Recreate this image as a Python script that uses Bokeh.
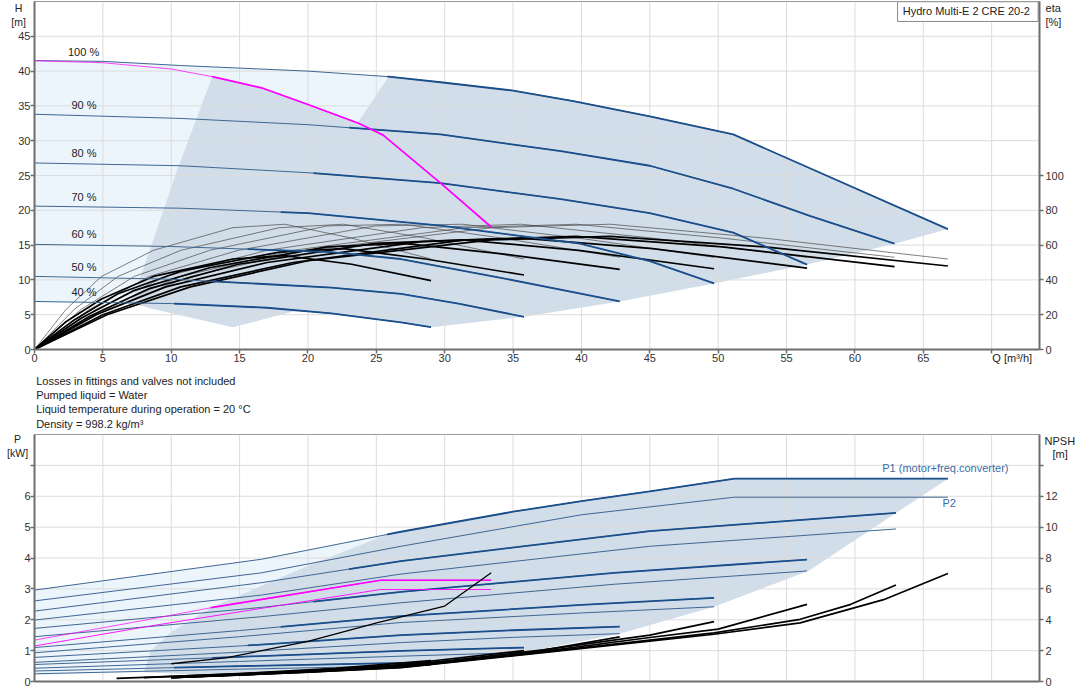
import numpy as np
from bokeh.plotting import figure
from bokeh.models import Range1d, LinearAxis, FixedTicker, Label
from bokeh.layouts import column
from bokeh.embed import file_html
from bokeh.resources import INLINE

# ---------------- ticks ----------------
Q_TICKS = list(range(0, 75, 5))
H_TICKS = list(range(0, 50, 5))
ETA_TICKS = [0, 20, 40, 60, 80, 100]
P_TICKS = list(range(0, 8))
NPSH_TICKS = list(range(0, 16, 2))

# ---------------- QH curves (top) ----------------
SPEED_LABELS = ["100 %", "90 %", "80 %", "70 %", "60 %", "50 %", "40 %"]
SPEED_LABEL_Q = [2.45, 2.7, 2.7, 2.7, 2.7, 2.7, 2.7]
SPEED_LABEL_H = [42.7, 35.1, 28.2, 21.9, 16.6, 11.9, 8.3]
THICK_FROM_Q = [25.8, 23.0, 20.4, 18.0, 15.6, 13.0, 10.2]

QH_Q_100 = [0, 5, 10.7, 20, 25.9, 29.7, 35, 39.4, 45, 51.1, 66.8]
QH_H_100 = [41.5, 41.4, 40.8, 40.0, 39.2, 38.4, 37.2, 35.7, 33.5, 30.9, 17.3]
QH_Q_90 = [0, 10.7, 20, 29.7, 38.5, 45, 51.1, 56.7, 62.9]
QH_H_90 = [33.8, 33.2, 32.3, 30.9, 28.5, 26.4, 23.1, 19.2, 15.2]
QH_Q_80 = [0, 10.7, 20, 29.7, 38.5, 45, 51.1, 56.5]
QH_H_80 = [26.8, 26.4, 25.4, 23.9, 21.6, 19.6, 16.8, 12.2]
QH_Q_70 = [0, 10.7, 20, 29.7, 39.9, 45, 49.7]
QH_H_70 = [20.6, 20.3, 19.6, 17.8, 15.2, 12.7, 9.5]
QH_Q_60 = [0, 10, 21.7, 26.8, 34.1, 42.8]
QH_H_60 = [15.1, 14.8, 14.0, 13.0, 10.3, 6.9]
QH_Q_50 = [0, 10, 21.7, 26.8, 31, 35.8]
QH_H_50 = [10.5, 10.1, 8.9, 8.0, 6.6, 4.7]
QH_Q_40 = [0, 10, 17, 21.7, 26.8, 29]
QH_H_40 = [6.9, 6.6, 6.0, 5.2, 3.9, 3.2]

MAG_Q = [0, 5, 10, 13, 16.6, 20, 23.7, 25.5, 29.7, 33.4]
MAG_H = [41.5, 41.2, 40.3, 39.2, 37.6, 35.2, 32.5, 30.8, 23.9, 17.6]
MAG_THICK_FROM = 13.0

# ---------------- efficiency curves (eta %) ----------------
ETA_Q_100 = [0, 5.3, 11.4, 20.0, 33.4, 42.1, 53.4, 66.8]
ETA_Q_90 = [0, 5.0, 10.7, 18.9, 31.5, 39.6, 50.3, 62.9]
ETA_Q_80 = [0, 4.5, 9.6, 17.0, 28.3, 35.6, 45.2, 56.5]
ETA_Q_70 = [0, 4.0, 8.4, 14.9, 24.9, 31.3, 39.8, 49.7]
ETA_Q_60 = [0, 3.4, 7.3, 12.8, 21.4, 27.0, 34.2, 42.8]
ETA_Q_50 = [0, 2.9, 6.1, 10.7, 17.9, 22.6, 28.6, 35.8]
ETA_Q_40 = [0, 2.3, 4.9, 8.7, 14.5, 18.3, 23.2, 29.0]
ETA_PUMP_100 = [0, 23, 42, 57, 70, 72, 64, 52]
ETA_PUMP_90 = [0, 23, 42, 57, 70, 72, 64, 53]
ETA_PUMP_80 = [0, 23, 42, 57, 70, 72, 64, 53]
ETA_PUMP_70 = [0, 23, 42, 57, 71, 72, 64, 53]
ETA_PUMP_60 = [0, 23, 42, 57, 71, 72, 64, 53]
ETA_PUMP_50 = [0, 23, 42, 57, 70, 72, 64, 52]
ETA_PUMP_40 = [0, 23, 42, 57, 70, 72, 64, 52]
ETA_TOT_100 = [0, 20, 36, 51, 63, 65, 59, 48]
ETA_TOT_90 = [0, 20, 36, 50, 63, 65, 59, 47.6]
ETA_TOT_80 = [0, 20, 36, 50, 62, 64, 58, 46.8]
ETA_TOT_70 = [0, 19, 35, 49, 61, 63, 57, 46.4]
ETA_TOT_60 = [0, 18, 34, 47, 59, 61, 55, 46]
ETA_TOT_50 = [0, 17, 32, 45, 56, 58, 52, 42.8]
ETA_TOT_40 = [0, 16, 29, 42, 52, 54, 49, 39.6]

# ---------------- operating-range areas ----------------
PALE_TOP_Q = [0, 5, 10.7, 20, 25.9, 23.6, 10.4, 7.1, 5, 0]
PALE_TOP_H = [41.5, 41.4, 40.8, 40.0, 39.2, 32.5, 25.6, 6.5, 6.6, 6.8]
GREY_TOP_Q = [13.0, 16.6, 20.0, 23.6, 25.9, 29.7, 35, 39.4, 45, 51.1, 66.8,
              62.9, 56.5, 49.7, 42.8, 35.8, 29.0, 26.8, 21.7, 19.0, 14.5, 8.5, 7.1, 10.4]
GREY_TOP_H = [39.2, 37.6, 35.2, 32.5, 39.2, 38.4, 37.2, 35.7, 33.5, 30.9, 17.3,
              15.2, 12.2, 9.5, 6.9, 4.7, 3.2, 3.9, 5.2, 5.5, 3.2, 5.9, 6.7, 25.6]

# ---------------- power curves (bottom) ----------------
P1_Q_100 = [0, 16.6, 26.8, 35, 40, 45, 51.2, 66.8]
P1_100 = [2.96, 3.96, 4.85, 5.5, 5.84, 6.16, 6.57, 6.57]
P2_Q_100 = [0, 16.6, 26.8, 40, 51.2, 66.8]
P2_100 = [2.61, 3.52, 4.38, 5.4, 5.97, 5.97]
P_Q_90 = [0, 16.6, 26.8, 45, 63]
P1_90 = [2.28, 3.2, 3.9, 4.87, 5.46]
P2_90 = [1.99, 2.8, 3.48, 4.38, 4.94]
P_Q_80 = [0, 16.6, 26.8, 42.4, 56.5]
P1_80 = [1.72, 2.4, 2.9, 3.52, 3.95]
P2_80 = [1.45, 2.1, 2.55, 3.15, 3.58]
P_Q_70 = [0, 15, 26.8, 40, 49.7]
P1_70 = [1.1, 1.65, 2.12, 2.48, 2.71]
P2_70 = [0.93, 1.45, 1.91, 2.22, 2.42]
P_Q_60 = [0, 15, 26.8, 35, 42.8]
P1_60 = [0.78, 1.15, 1.5, 1.66, 1.78]
P2_60 = [0.62, 0.95, 1.26, 1.43, 1.55]
P_Q_50 = [0, 15, 26.8, 35.8]
P1_50 = [0.55, 0.8, 0.99, 1.1]
P2_50 = [0.43, 0.65, 0.82, 0.94]
P_Q_40 = [0, 15, 29]
P1_40 = [0.34, 0.5, 0.62]
P2_40 = [0.25, 0.4, 0.52]

MAGP1_Q = [0, 8.5, 12.9, 25.3, 33.4]
MAGP1 = [1.34, 2.02, 2.39, 3.28, 3.28]
MAGP2_Q = [0, 8.5, 25.3, 33.4]
MAGP2 = [1.15, 1.8, 2.98, 2.98]
MAGP_THICK_FROM = 12.9

# NPSH curves [m]
NPSH_Q_100 = [10, 20, 26.8, 37.2, 49.7, 56, 62.1, 66.8]
NPSH_100 = [0.25, 0.6, 0.9, 1.87, 3.06, 3.8, 5.3, 7.0]
NPSH_Q_90 = [10, 20, 26.8, 37.2, 49.7, 56, 59.7, 63]
NPSH_90 = [0.25, 0.6, 0.92, 1.9, 3.15, 4.03, 5.0, 6.25]
NPSH_Q_80 = [10, 20, 26.8, 37.2, 45, 50, 56.5]
NPSH_80 = [0.25, 0.62, 0.95, 1.95, 2.85, 3.39, 5.0]
NPSH_Q_70 = [10, 20, 26.8, 37.2, 45, 49.7]
NPSH_70 = [0.25, 0.65, 1.0, 2.05, 3.0, 3.88]
NPSH_Q_60 = [10, 20, 26.8, 35, 42.8]
NPSH_60 = [0.28, 0.68, 1.05, 1.7, 2.89]
NPSH_Q_50 = [8, 20, 26.8, 35.8]
NPSH_50 = [0.25, 0.7, 1.1, 2.0]
NPSH_Q_40 = [6, 15, 22, 29]
NPSH_40 = [0.2, 0.5, 0.85, 1.35]
NPSH_Q_DUTY = [10, 14.1, 20, 25.1, 30, 33.4]
NPSH_DUTY = [1.15, 1.55, 2.6, 3.81, 4.89, 7.04]

PALE_BOT_Q = [0, 16.6, 25.8, 20, 12.9, 10, 8, 0]
PALE_BOT_P = [2.96, 3.96, 4.77, 3.75, 2.39, 1.6, 0.3, 0.2]
GREY_BOT_Q = [25.8, 35, 40, 45, 51.2, 66.8, 56.6, 49.7, 42.8, 35.8, 29.0, 26.8, 20, 12, 8, 8.5, 10, 12.9, 20]
GREY_BOT_P = [4.77, 5.5, 5.84, 6.16, 6.57, 6.57, 3.58, 2.42, 1.55, 0.94, 0.55, 0.45, 0.3, 0.22, 0.3, 1.0, 1.6, 2.39, 3.75]

NOTES = ["Losses in fittings and valves not included",
         "Pumped liquid = Water",
         "Liquid temperature during operation = 20 \u00b0C",
         "Density = 998.2 kg/m\u00b3"]
TITLE = "Hydro Multi-E 2 CRE 20-2"

# ---------------- style ----------------
FONT = "Liberation Sans"
BLUE = "#1b4f8c"
THIN_BLUE = "#3f6792"
PALE = "#edf5fc"
GREY = "#d1dde9"
GRID = "#dcdcdc"
AXIS = "#6e6e6e"
MAGENTA = "#ff00ff"
TXT = "#222222"

QH_Q = [QH_Q_100, QH_Q_90, QH_Q_80, QH_Q_70, QH_Q_60, QH_Q_50, QH_Q_40]
QH_H = [QH_H_100, QH_H_90, QH_H_80, QH_H_70, QH_H_60, QH_H_50, QH_H_40]
ETA_Q = [ETA_Q_100, ETA_Q_90, ETA_Q_80, ETA_Q_70, ETA_Q_60, ETA_Q_50, ETA_Q_40]
ETA_PUMP = [ETA_PUMP_100, ETA_PUMP_90, ETA_PUMP_80, ETA_PUMP_70, ETA_PUMP_60, ETA_PUMP_50, ETA_PUMP_40]
ETA_TOT = [ETA_TOT_100, ETA_TOT_90, ETA_TOT_80, ETA_TOT_70, ETA_TOT_60, ETA_TOT_50, ETA_TOT_40]
P1_Q = [P1_Q_100, P_Q_90, P_Q_80, P_Q_70, P_Q_60, P_Q_50, P_Q_40]
P1 = [P1_100, P1_90, P1_80, P1_70, P1_60, P1_50, P1_40]
P2_Q = [P2_Q_100, P_Q_90, P_Q_80, P_Q_70, P_Q_60, P_Q_50, P_Q_40]
P2 = [P2_100, P2_90, P2_80, P2_70, P2_60, P2_50, P2_40]
NPSH_Q = [NPSH_Q_100, NPSH_Q_90, NPSH_Q_80, NPSH_Q_70, NPSH_Q_60, NPSH_Q_50, NPSH_Q_40]
NPSH = [NPSH_100, NPSH_90, NPSH_80, NPSH_70, NPSH_60, NPSH_50, NPSH_40]


def part_from(qs, vs, q0):
    qs = np.asarray(qs, float)
    vs = np.asarray(vs, float)
    v0 = float(np.interp(q0, qs, vs))
    m = qs > q0
    return [q0] + list(qs[m]), [v0] + list(vs[m])


def style_axis(ax, size="11px", standoff=1, tick_out=4):
    ax.axis_line_color = AXIS
    ax.axis_line_width = 2
    ax.major_tick_line_color = AXIS
    ax.major_tick_line_width = 1.5
    ax.major_tick_out = tick_out
    ax.major_tick_in = 0
    ax.minor_tick_line_color = None
    ax.major_label_text_font = FONT
    ax.major_label_text_font_size = size
    ax.major_label_text_color = "#333333"
    ax.major_label_standoff = standoff
    ax.axis_label_standoff = 0


def add_grid(p, ymax, ystep, ytop):
    xs = [q for q in Q_TICKS if q > 0]
    p.segment(x0=xs, y0=[0] * len(xs), x1=xs, y1=[ytop] * len(xs), line_color=GRID, line_width=1)
    ys = list(np.arange(ystep, ymax + 1e-9, ystep))
    p.segment(x0=[0] * len(ys), y0=ys, x1=[73.5] * len(ys), y1=ys, line_color=GRID, line_width=1)


def lab(p, x, y, text, size="11px", align="left", color=TXT, baseline="middle", side=None):
    lbl = Label(x=x, y=y, text=text, text_font=FONT, text_font_size=size,
                text_color=color, text_align=align, text_baseline=baseline)
    if side is None:
        p.add_layout(lbl)
    else:
        p.add_layout(lbl, side)


# ================= TOP FIGURE =================
p1 = figure(width=1082, height=433, x_range=Range1d(0, 73.5), y_range=Range1d(0, 50),
            output_backend="svg", toolbar_location=None,
            min_border_left=33, min_border_right=42, min_border_top=1, min_border_bottom=84)
p1.grid.visible = False
p1.outline_line_color = "#9a9a9a"
p1.background_fill_color = "white"
p1.extra_y_ranges = {"eta": Range1d(0, 200)}

p1.xaxis.ticker = FixedTicker(ticks=Q_TICKS, minor_ticks=[])
p1.xaxis.major_label_overrides = {70: ""}
p1.yaxis.ticker = FixedTicker(ticks=H_TICKS, minor_ticks=[])
style_axis(p1.xaxis[0], standoff=0)
style_axis(p1.yaxis[0], standoff=0, tick_out=4)
eta_axis = LinearAxis(y_range_name="eta", ticker=FixedTicker(ticks=ETA_TICKS, minor_ticks=[]))
style_axis(eta_axis, standoff=2)
p1.add_layout(eta_axis, "right")

p1.patch(PALE_TOP_Q, PALE_TOP_H, fill_color=PALE, line_color=None)
p1.patch(GREY_TOP_Q, GREY_TOP_H, fill_color=GREY, line_color=None)
add_grid(p1, 45, 5, 50)

for q, e in zip(ETA_Q, ETA_PUMP):
    p1.line(q, e, y_range_name="eta", line_color="#444444", line_width=0.8, line_alpha=0.85)
for q, e in zip(ETA_Q, ETA_TOT):
    p1.line(q, e, y_range_name="eta", line_color="black", line_width=1.7)

for q, h, q0 in zip(QH_Q, QH_H, THICK_FROM_Q):
    p1.line(q, h, line_color=THIN_BLUE, line_width=1)
    tq, th = part_from(q, h, q0)
    p1.line(tq, th, line_color=BLUE, line_width=1.8)

p1.line(MAG_Q, MAG_H, line_color=MAGENTA, line_width=0.9, line_alpha=0.8)
mq, mh = part_from(MAG_Q, MAG_H, MAG_THICK_FROM)
p1.line(mq, mh, line_color=MAGENTA, line_width=1.7)

for t, x, y in zip(SPEED_LABELS, SPEED_LABEL_Q, SPEED_LABEL_H):
    lab(p1, x, y, t)

p1.quad(left=[63.12], right=[73.4], top=[49.97], bottom=[47.13],
        fill_color="white", line_color="#8a8a8a", line_width=1)
lab(p1, 63.5, 48.6, TITLE, size="11px")

# texts outside the frame: placed in side panels (not clipped)
lab(p1, -1.17, 50.0, "H\n[m]", size="10.5px", align="center", baseline="top", side="left")
lab(p1, 73.94, 50.0, "eta\n[%]", baseline="top", side="right")
lab(p1, 70.05, -1.2, "Q [m\u00b3/h]", side="below")
lab(p1, 0.12, -3.6, "\n".join(NOTES), baseline="top", side="below")

# ================= BOTTOM FIGURE =================
p2 = figure(width=1082, height=267, x_range=p1.x_range, y_range=Range1d(0, 8),
            output_backend="svg", toolbar_location=None,
            min_border_left=33, min_border_right=42, min_border_top=1, min_border_bottom=19)
p2.grid.visible = False
p2.outline_line_color = "#9a9a9a"
p2.extra_y_ranges = {"npsh": Range1d(0, 16)}
p2.xaxis.ticker = FixedTicker(ticks=Q_TICKS, minor_ticks=[])
p2.xaxis.major_label_overrides = {q: "" for q in Q_TICKS}
p2.yaxis.ticker = FixedTicker(ticks=P_TICKS, minor_ticks=[])
p2.yaxis.major_label_overrides = {7: ""}
style_axis(p2.xaxis[0], standoff=0)
style_axis(p2.yaxis[0], standoff=0)
p2.xaxis.major_tick_out = 0
p2.xaxis.major_label_text_font_size = "1px"
npsh_axis = LinearAxis(y_range_name="npsh", ticker=FixedTicker(ticks=NPSH_TICKS, minor_ticks=[]))
npsh_axis.major_label_overrides = {14: ""}
style_axis(npsh_axis, standoff=2)
p2.add_layout(npsh_axis, "right")

p2.patch(PALE_BOT_Q, PALE_BOT_P, fill_color=PALE, line_color=None)
p2.patch(GREY_BOT_Q, GREY_BOT_P, fill_color=GREY, line_color=None)
add_grid(p2, 7, 1, 8)

for q, v in zip(P2_Q, P2):
    p2.line(q, v, line_color=THIN_BLUE, line_width=1)
for q, v, q0 in zip(P1_Q, P1, THICK_FROM_Q):
    p2.line(q, v, line_color=THIN_BLUE, line_width=1)
    tq, tv = part_from(q, v, q0)
    p2.line(tq, tv, line_color=BLUE, line_width=1.8)

p2.line(MAGP2_Q, MAGP2, line_color=MAGENTA, line_width=1, line_alpha=0.9)
p2.line(MAGP1_Q, MAGP1, line_color=MAGENTA, line_width=0.9, line_alpha=0.8)
mq, mp = part_from(MAGP1_Q, MAGP1, MAGP_THICK_FROM)
p2.line(mq, mp, line_color=MAGENTA, line_width=1.7)

for q, n in zip(NPSH_Q, NPSH):
    p2.line(q, n, y_range_name="npsh", line_color="black", line_width=1.7)
p2.line(NPSH_Q_DUTY, NPSH_DUTY, y_range_name="npsh", line_color="black", line_width=1.3)

lab(p2, 62.0, 6.9, "P1 (motor+freq.converter)", color="#3a6da6")
lab(p2, 66.4, 5.77, "P2", color="#3a6da6")
lab(p2, -1.24, 8.06, "P\n[kW]", size="10.5px", align="center", baseline="top", side="left")
lab(p2, 73.87, 7.8, "NPSH", side="below")
lab(p2, 74.45, 7.38, "[m]", side="right")

layout = column(p1, p2, spacing=0)
open("out.html", "w").write(file_html(layout, INLINE))
